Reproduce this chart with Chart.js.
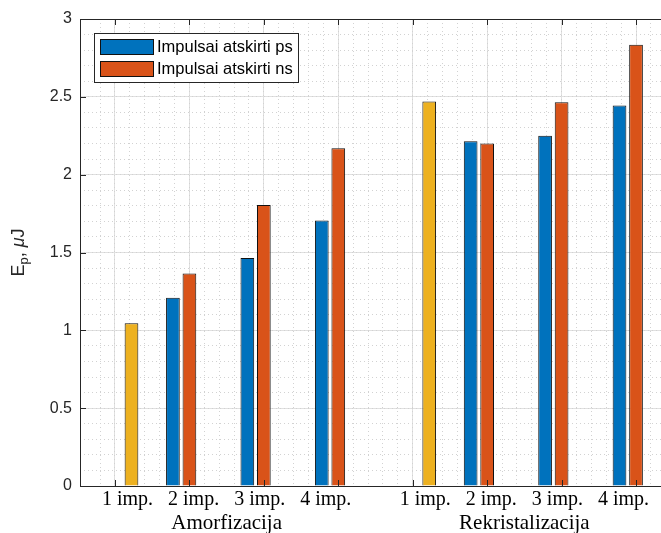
<!DOCTYPE html>
<html>
<head>
<meta charset="utf-8">
<script src="https://cdn.jsdelivr.net/npm/chart.js"></script>
<style>
  html, body { margin: 0; padding: 0; background: #fff; overflow: hidden; }
  #wrap { width: 661px; height: 533px; overflow: hidden; }
</style>
</head>
<body>
<div id="wrap"><canvas id="energyChart" width="675" height="533"></canvas></div>
<script>
// values
const categories = ['1 imp.', '2 imp.', '3 imp.', '4 imp.', '1 imp.', '2 imp.', '3 imp.', '4 imp.'];
const groups = ['Amorfizacija', 'Rekristalizacija'];
const psValues = [null, 1.21, 1.465, 1.705, null, 2.215, 2.25, 2.445];
const nsValues = [null, 1.365, 1.805, 2.17, null, 2.20, 2.465, 2.835];
const singleValues = [1.045, null, null, null, 2.47, null, null, null];
const yTicks = [0, 0.5, 1, 1.5, 2, 2.5, 3];

const positions = categories.map((_, i) => i + 1);
const perGroup = categories.length / groups.length;
const groupCenters = groups.map((_, g) => g * perGroup + (perGroup + 1) / 2);
// the figure prints each group's category names as one spaced line
const groupRows = groups.map((_, g) => categories.slice(g * perGroup, (g + 1) * perGroup).join('   '));
const xMin = 0.53, xMax = 8.47;

const axisColor = '#262626';
const majorGrid = '#e0e0e0';
const minorGrid = '#d2d2d2';
const serif = '"Liberation Serif", "Times New Roman", serif';
const sans = '"Liberation Sans", Arial, sans-serif';

// box around the axes plus inward tick marks, drawn above the bars
const frame = {
    id: 'frame',
    afterDatasetsDraw(chart) {
        const { ctx, chartArea: a, scales } = chart;
        ctx.save();
        ctx.strokeStyle = axisColor;
        ctx.lineWidth = 1;
        ctx.beginPath();
        ctx.rect(a.left + 0.5, a.top + 0.5, a.right - a.left, a.bottom - a.top);
        scales.x.ticks.forEach(t => {
            const px = Math.round(scales.x.getPixelForValue(t.value)) + 0.5;
            ctx.moveTo(px, a.bottom); ctx.lineTo(px, a.bottom - 6);
            ctx.moveTo(px, a.top); ctx.lineTo(px, a.top + 6);
        });
        scales.y.ticks.forEach(t => {
            const py = Math.round(scales.y.getPixelForValue(t.value)) + 0.5;
            ctx.moveTo(a.left, py); ctx.lineTo(a.left + 6, py);
            ctx.moveTo(a.right, py); ctx.lineTo(a.right - 6, py);
        });
        ctx.stroke();
        ctx.restore();
    }
};

// legend inside the axes, only labelled datasets
const legendBox = {
    id: 'legendBox',
    afterDraw(chart) {
        const { ctx, chartArea: a } = chart;
        const items = chart.data.datasets.filter(d => d.label);
        const x = a.left + 14, y = a.top + 14, w = 204, h = 49;
        ctx.save();
        ctx.fillStyle = '#fff';
        ctx.fillRect(x, y, w, h);
        ctx.strokeStyle = axisColor;
        ctx.lineWidth = 1;
        ctx.strokeRect(x + 0.5, y + 0.5, w, h);
        ctx.font = '16.5px ' + sans;
        ctx.textBaseline = 'middle';
        items.forEach((d, i) => {
            const ry = y + 6 + i * 22;
            ctx.fillStyle = d.backgroundColor;
            ctx.fillRect(x + 6, ry, 54, 16);
            ctx.strokeStyle = d.borderColor;
            ctx.strokeRect(x + 6.5, ry + 0.5, 53, 15);
            ctx.fillStyle = '#000';
            ctx.fillText(d.label, x + 63, ry + 8.5);
        });
        ctx.restore();
    }
};

// y axis title "E_p, μJ" with a real subscript
const yTitle = {
    id: 'yTitle',
    afterDraw(chart) {
        const { ctx, chartArea: a } = chart;
        const parts = [
            { t: 'E', f: '18px ' + sans, dy: 0 },
            { t: 'p', f: '13px ' + sans, dy: 4 },
            { t: ', ', f: '18px ' + sans, dy: 0 },
            { t: 'μ', f: 'italic 18px ' + sans, dy: 0 },
            { t: 'J', f: '18px ' + sans, dy: 0 }
        ];
        ctx.save();
        let total = 0;
        parts.forEach(p => { ctx.font = p.f; p.w = ctx.measureText(p.t).width; total += p.w; });
        ctx.translate(18, (a.top + a.bottom) / 2);
        ctx.rotate(-Math.PI / 2);
        ctx.fillStyle = axisColor;
        ctx.textBaseline = 'alphabetic';
        let cx = -total / 2;
        parts.forEach(p => {
            ctx.font = p.f;
            ctx.fillText(p.t, cx, 6 + p.dy);
            cx += p.w;
        });
        ctx.restore();
    }
};

const ctx = document.getElementById('energyChart').getContext('2d');

const energyChart = new Chart(ctx, {
    type: 'bar',
    data: {
        labels: positions,
        datasets: [
            { label: 'Impulsai atskirti ps', data: psValues, backgroundColor: '#0072BD', borderColor: '#111', borderWidth: 1 },
            { label: 'Impulsai atskirti ns', data: nsValues, backgroundColor: '#D95319', borderColor: '#111', borderWidth: 1 },
            { label: '', data: singleValues, backgroundColor: '#EDB120', borderColor: '#111', borderWidth: 1 }
        ]
    },
    options: {
        responsive: false,
        animation: false,
        categoryPercentage: 0.665,
        barPercentage: 0.83,
        layout: { padding: { top: 19, right: 4, left: 0, bottom: 0 } },
        plugins: {
            legend: { display: false },
            tooltip: { enabled: false }
        },
        scales: {
            x: {
                type: 'linear',
                position: 'bottom',
                weight: 0,
                offset: false,
                min: xMin,
                max: xMax,
                afterBuildTicks: s => { s.ticks = positions.map(v => ({ value: v })); },
                afterFit: s => { s.height = 0; },
                ticks: { display: false },
                grid: { color: majorGrid, drawTicks: false, offset: false },
                border: { display: true, color: axisColor }
            },
            xRow: {
                type: 'linear',
                position: 'bottom',
                weight: 1,
                offset: false,
                min: xMin,
                max: xMax,
                afterBuildTicks: s => { s.ticks = groupCenters.map(v => ({ value: v })); },
                afterFit: s => { s.height = 25; },
                ticks: {
                    callback: (v, i) => groupRows[i],
                    font: { family: serif, size: 20 },
                    color: '#000',
                    padding: 2,
                    maxRotation: 0,
                    autoSkip: false
                },
                grid: { display: false, drawTicks: false, offset: false },
                border: { display: false }
            },
            xGroup: {
                type: 'linear',
                position: 'bottom',
                weight: 2,
                offset: false,
                min: xMin,
                max: xMax,
                afterBuildTicks: s => { s.ticks = groupCenters.map(v => ({ value: v })); },
                afterFit: s => { s.height = 22; },
                ticks: {
                    callback: (v, i) => groups[i],
                    font: { family: serif, size: 21 },
                    color: '#000',
                    padding: 0,
                    maxRotation: 0,
                    autoSkip: false
                },
                grid: { display: false, drawTicks: false, offset: false },
                border: { display: false }
            },
            xMinor: {
                type: 'linear',
                position: 'bottom',
                weight: 3,
                offset: false,
                min: xMin,
                max: xMax,
                afterFit: s => { s.height = 0; },
                ticks: { display: false, stepSize: 0.2 },
                grid: { color: minorGrid, drawTicks: false, offset: false },
                border: { display: false, dash: [1, 3] }
            },
            y: {
                min: 0,
                max: 3,
                weight: 0,
                afterBuildTicks: s => { s.ticks = yTicks.map(v => ({ value: v })); },
                afterFit: s => { s.width = 80; },
                ticks: {
                    callback: v => String(v),
                    font: { family: sans, size: 16 },
                    color: axisColor,
                    padding: 8
                },
                grid: { color: majorGrid, drawTicks: false },
                border: { display: true, color: axisColor }
            },
            yMinor: {
                position: 'left',
                weight: 1,
                min: 0,
                max: 3,
                afterFit: s => { s.width = 0; },
                ticks: { display: false, stepSize: 0.1 },
                grid: { color: minorGrid, drawTicks: false },
                border: { display: false, dash: [1, 3] }
            }
        }
    },
    plugins: [frame, legendBox, yTitle]
});
</script>
</body>
</html>
